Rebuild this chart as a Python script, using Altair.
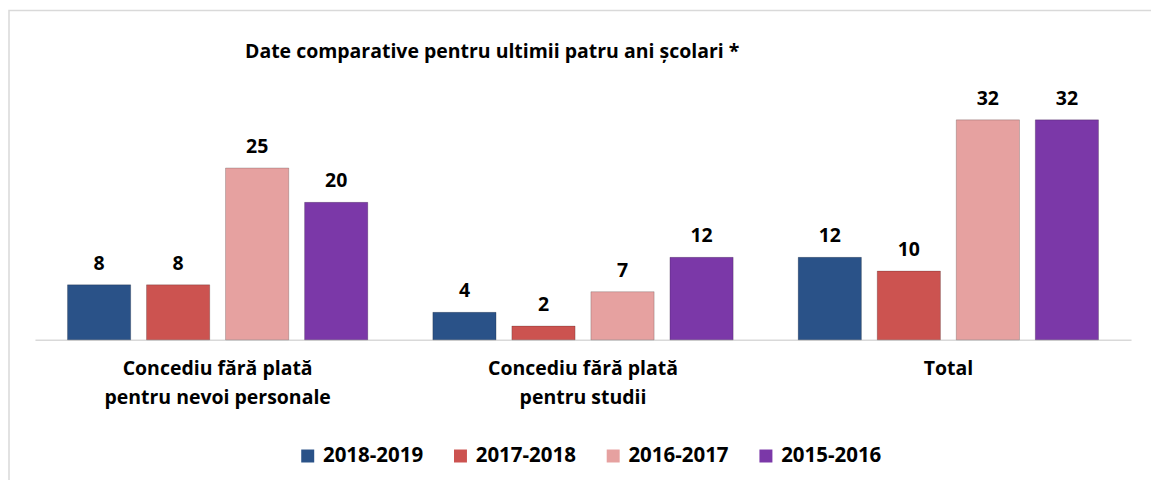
import altair as alt
import pandas as pd

categories = ["Concediu fără plată|pentru nevoi personale", "Concediu fără plată|pentru studii", "Total"]
series = ["2018-2019", "2017-2018", "2016-2017", "2015-2016"]
v_2018_2019 = [8, 4, 12]
v_2017_2018 = [8, 2, 10]
v_2016_2017 = [25, 7, 32]
v_2015_2016 = [20, 12, 32]
colors = ["#2A5288", "#CC5350", "#E6A1A0", "#7B38A8"]
title_text = "Date comparative pentru ultimii patru ani școlari *"

vals = [v_2018_2019, v_2017_2018, v_2016_2017, v_2015_2016]
rows = []
for s, vs in zip(series, vals):
    for c, v in zip(categories, vs):
        rows.append({"cat": c, "serie": s, "val": v})
df = pd.DataFrame(rows)

FONT = "Open Sans"
W, H = 1098, 241

xenc = alt.X("cat:N", sort=categories, title=None,
             scale=alt.Scale(paddingInner=0.178, paddingOuter=0.089),
             axis=alt.Axis(labelAngle=0, labelExpr="split(datum.label, '|')",
                           labelFont=FONT, labelFontSize=19.5, labelFontWeight="bold",
                           labelColor="#000000", labelPadding=20, labelLineHeight=29,
                           labelLimit=400,
                           ticks=False, domainColor="#d9d9d9", domainWidth=1.5,
                           grid=False))
xoff = alt.XOffset("serie:N", sort=series, scale=alt.Scale(paddingInner=0.2, paddingOuter=0))
yenc = alt.Y("val:Q", scale=alt.Scale(domain=[0, 35]), axis=None)

base = alt.Chart(df)

border = alt.Chart(pd.DataFrame({"a": [0]})).mark_rect(
    fill=None, stroke="#d9d9d9", strokeWidth=1.5, clip=False
).encode(x=alt.value(-26), x2=alt.value(W + 200), y=alt.value(-89), y2=alt.value(H + 300))

title = alt.Chart(pd.DataFrame({"t": [title_text]})).mark_text(
    font=FONT, fontSize=19.5, fontWeight="bold", color="#000000",
    align="center", baseline="middle"
).encode(x=alt.value(458), y=alt.value(-47), text="t:N")

bars = base.mark_bar(stroke="#00000033", strokeWidth=1).encode(
    x=xenc, xOffset=xoff, y=yenc,
    color=alt.Color("serie:N", sort=series,
                    scale=alt.Scale(domain=series, range=colors),
                    legend=alt.Legend(title=None, orient="none", legendX=263, legendY=347,
                                      direction="horizontal", symbolType="square",
                                      symbolSize=169, symbolStrokeWidth=0,
                                      labelFont=FONT, labelFontSize=20.5, labelFontWeight="bold",
                                      labelColor="#000000", columnPadding=27, labelOffset=5))
)

labels = base.mark_text(font=FONT, fontSize=19.5, fontWeight="bold", color="#000000",
                        baseline="alphabetic", dy=-15).encode(
    x=xenc, xOffset=xoff, y=yenc, text="val:Q"
)

chart = alt.layer(border, title, bars, labels).properties(
    width=W, height=H,
    padding={"left": 27, "top": 91, "right": 20, "bottom": 140},
    autosize=alt.AutoSizeParams(type="none"),
).configure(background="white").configure_view(stroke=None)

chart.save("out.html", embed_options={"renderer": "svg", "actions": False})
